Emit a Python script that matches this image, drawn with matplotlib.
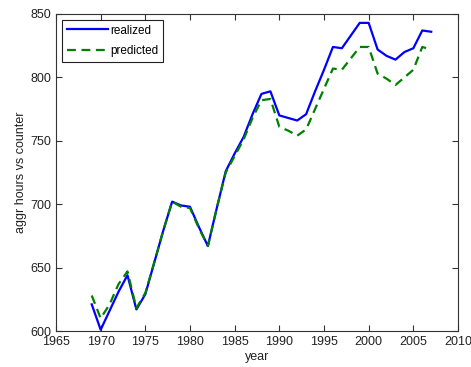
import matplotlib
matplotlib.use('Agg')
import matplotlib.pyplot as plt

plt.rcParams['font.family'] = ['Liberation Sans', 'DejaVu Sans']

# 年度数据
years = list(range(1969, 2008))
realized = [621, 601, 616, 631, 644, 617, 629, 654, 679, 702,
            699, 698, 682, 667, 697, 726, 740, 753, 771, 787,
            789, 770, 768, 766, 771, 789, 806, 824, 823, 833,
            843, 843, 822, 817, 814, 820, 823, 837, 836]
predicted = [628, 610, 621, 637, 647, 618, 630, 654, 679, 702,
             698, 697, 681, 667, 697, 725, 738, 751, 768, 782,
             783, 761, 758, 754, 759, 775, 791, 807, 806, 815,
             824, 824, 803, 799, 794, 800, 806, 824, 822]

x_ticks = [1965, 1970, 1975, 1980, 1985, 1990, 1995, 2000, 2005, 2010]
y_ticks = [600, 650, 700, 750, 800, 850]

fig = plt.figure(figsize=(4.71, 3.67), dpi=100)
ax = fig.add_axes([56 / 471, 36 / 367, 402 / 471, 317 / 367])

ax.plot(years, realized, color='#0000ff', linewidth=1.6, label='realized')
ax.plot(years, predicted, color='#008000', linewidth=1.6, linestyle='--',
        dashes=(4, 2.5), label='predicted')

ax.set_xlim(1965, 2010)
ax.set_ylim(600, 850)
ax.set_xticks(x_ticks)
ax.set_yticks(y_ticks)

for s in ax.spines.values():
    s.set_color('#333333')
    s.set_linewidth(0.8)
ax.tick_params(direction='in', length=4, width=0.8, colors='#333333',
               labelcolor='#222222', labelsize=9, top=True, right=True)

ax.set_xlabel('year', fontsize=9, color='#222222', labelpad=2)
ax.set_ylabel('aggr hours vs counter', fontsize=9, color='#222222', labelpad=2)

leg = ax.legend(loc='upper left', fontsize=8.5, fancybox=False, framealpha=1,
                edgecolor='#222222', handlelength=3.5, handletextpad=0.2,
                borderpad=0.4, labelspacing=0.7, borderaxespad=0.5)
leg.get_frame().set_linewidth(0.8)

fig.savefig('out.png', dpi=100)
